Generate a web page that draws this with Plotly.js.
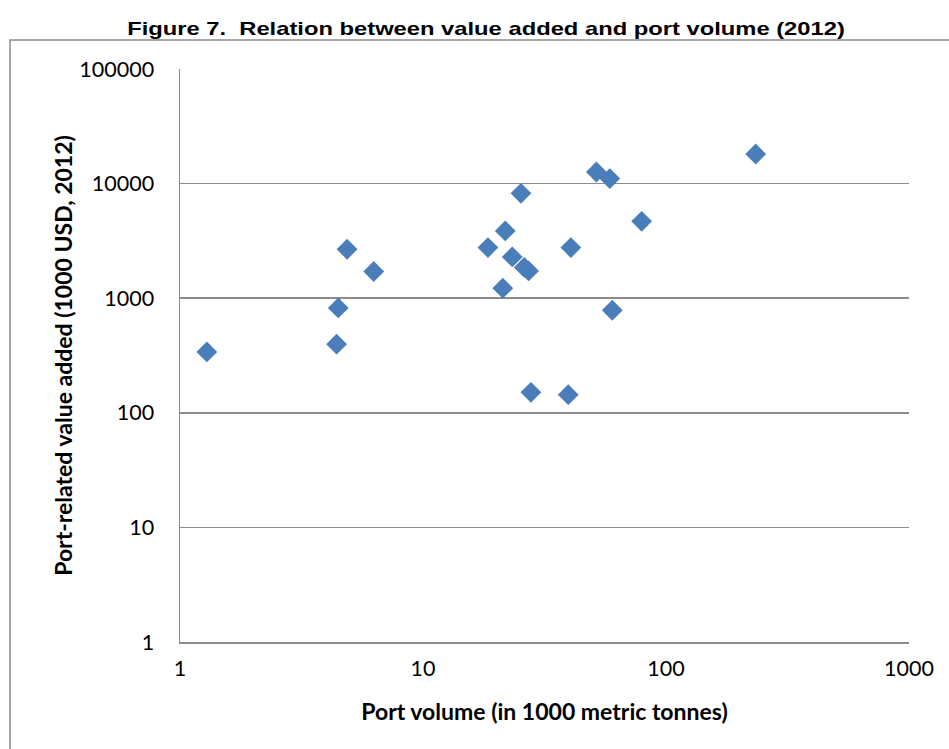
<!DOCTYPE html>
<html>
<head>
<meta charset="utf-8">
<script src="https://cdn.plot.ly/plotly-3.0.1.min.js"></script>
<style>
  html, body { margin: 0; padding: 0; background: #fff; }
  #chart { width: 949px; height: 749px; }
  #chart .gtitle { transform-box: fill-box; transform-origin: center; transform: scaleX(1.25); }
</style>
</head>
<body>
<div id="chart"></div>
<script>
// Port volume (1000 metric tonnes)
const portVolume = [1.29, 4.41, 4.48, 4.87, 6.27, 18.5, 21.8, 21.3, 23.3, 25.3,
                    26.1, 27.2, 27.8, 39.6, 40.6, 51.7, 58.7, 60.1, 79.4, 234];
// Port-related value added (1000 USD, 2012)
const valueAdded = [340, 397, 822, 2674, 1710, 2767, 3864, 1222, 2291, 8226,
                    1854, 1730, 151, 144, 2767, 12630, 11060, 785, 4690, 18120];

const xTicks = [1, 10, 100, 1000];
const yTicks = [1, 10, 100, 1000, 10000, 100000];

const trace = {
  x: portVolume,
  y: valueAdded,
  type: 'scatter',
  mode: 'markers',
  marker: { symbol: 'diamond', size: 16, color: '#4a7ebb', line: { width: 0 } },
  hoverinfo: 'x+y'
};

const tickFont = { family: 'Lato, sans-serif', size: 21.5, color: '#000' };
const gray = '#8c8c8c';

const layout = {
  width: 949,
  height: 749,
  paper_bgcolor: '#fff',
  plot_bgcolor: '#fff',
  showlegend: false,
  margin: { l: 180, r: 40, t: 69, b: 107, autoexpand: false },
  title: {
    text: 'Figure 7.\u00a0 Relation between value added and port volume (2012)',
    font: { family: 'Liberation Sans, Arial, sans-serif', size: 19, color: '#000', weight: 'bold' },
    x: 486 / 949, xref: 'container', xanchor: 'center',
    y: 1 - 28 / 749, yref: 'container', yanchor: 'middle'
  },
  xaxis: {
    type: 'log',
    range: [0, 3],
    tickvals: xTicks,
    ticktext: xTicks.map(String),
    tickfont: tickFont,
    showgrid: false,
    zeroline: false,
    showline: true,
    linecolor: gray,
    linewidth: 1.5,
    ticks: 'outside',
    ticklen: 7,
    tickcolor: 'rgba(0,0,0,0)',
    automargin: false,
    title: {
      text: 'Port volume (in 1000 metric tonnes)',
      font: { family: 'Lato, sans-serif', size: 23, color: '#000', weight: 'bold' },
      standoff: 23
    }
  },
  yaxis: {
    type: 'log',
    range: [0, 5],
    tickvals: yTicks,
    ticktext: yTicks.map(String),
    tickfont: tickFont,
    showgrid: true,
    gridcolor: gray,
    gridwidth: 1.5,
    zeroline: false,
    showline: true,
    linecolor: gray,
    linewidth: 1.5,
    ticks: 'outside',
    ticklen: 20,
    tickcolor: 'rgba(0,0,0,0)',
    automargin: false,
    title: {
      text: 'Port-related value added (1000 USD, 2012)',
      font: { family: 'Lato, sans-serif', size: 23, color: '#000', weight: 'bold' },
      standoff: 0
    }
  },
  shapes: [
    {
      type: 'rect', xref: 'paper', yref: 'paper',
      x0: (10 - 180) / 729, x1: (960 - 180) / 729,
      y0: (642 - 760) / 573, y1: (642 - 40) / 573,
      line: { color: gray, width: 1.5 },
      fillcolor: 'rgba(0,0,0,0)',
      layer: 'below'
    }
  ]
};

Plotly.newPlot('chart', [trace], layout, { displayModeBar: false, staticPlot: true });
</script>
</body>
</html>
